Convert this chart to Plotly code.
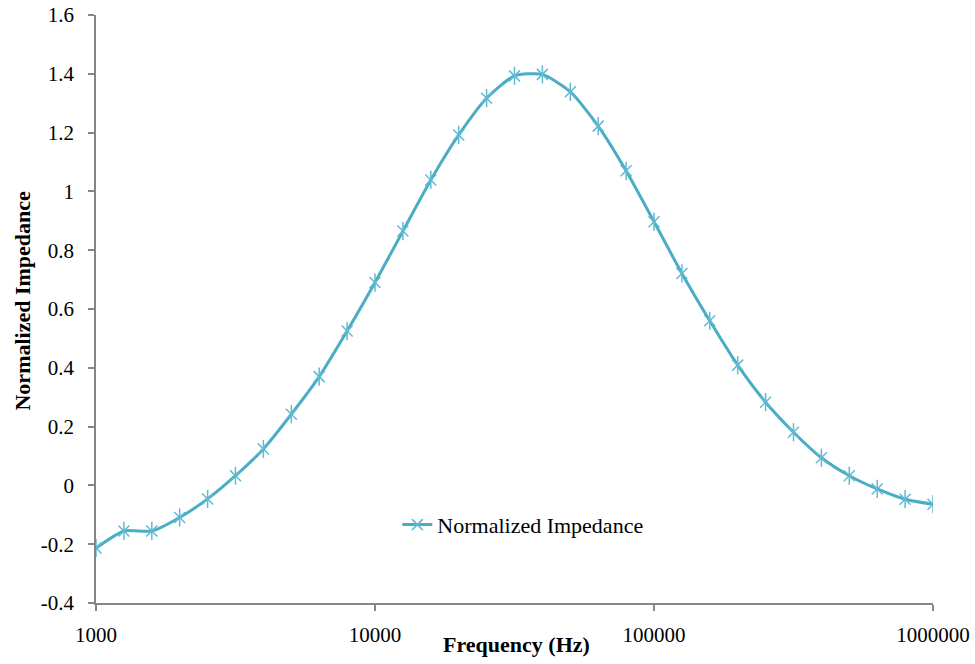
import plotly.graph_objects as go

freq = [1000, 1259, 1585, 1995, 2512, 3162, 3981, 5012, 6310, 7943,
        10000, 12589, 15849, 19953, 25119, 31623, 39811, 50119, 63096, 79433,
        100000, 125893, 158489, 199526, 251189, 316228, 398107, 501187, 630957, 794328,
        1000000]
impedance = [-0.213, -0.155, -0.155, -0.109, -0.046, 0.033, 0.124, 0.242, 0.37, 0.525,
             0.69, 0.865, 1.039, 1.192, 1.317, 1.393, 1.398, 1.339, 1.222, 1.07,
             0.897, 0.721, 0.56, 0.409, 0.283, 0.181, 0.094, 0.033, -0.012, -0.047,
             -0.064]
x_ticks = [1000, 10000, 100000, 1000000]
x_tick_text = ["1000", "10000", "100000", "1000000"]
y_ticks = [-0.4, -0.2, 0, 0.2, 0.4, 0.6, 0.8, 1, 1.2, 1.4, 1.6]
y_tick_text = ["-0.4", "-0.2", "0", "0.2", "0.4", "0.6", "0.8", "1", "1.2", "1.4", "1.6"]
x_title = "Frequency (Hz)"
y_title = "Normalized Impedance"

color = "#4BACC6"
marker_color = "#5FBAD2"
font = "Liberation Serif, Times New Roman, DejaVu Serif, serif"

fig = go.Figure()
fig.add_trace(go.Scatter(
    x=freq, y=impedance, mode="lines+markers", name="Normalized Impedance",
    line=dict(color=color, width=3, shape="spline", smoothing=0.6),
    marker=dict(symbol="x-thin-open", size=11, color=marker_color,
                line=dict(color=marker_color, width=1.5)),
))
fig.add_trace(go.Scatter(
    x=freq, y=impedance, mode="markers", showlegend=False, hoverinfo="skip",
    marker=dict(symbol="line-ns-open", size=13, color=marker_color,
                line=dict(color=marker_color, width=1.5)),
))

axis_common = dict(
    showgrid=False, zeroline=False, automargin=False,
    showline=True, linecolor="#868686", linewidth=1.5,
    ticks="outside", ticklen=6, tickcolor="#868686", tickwidth=1.5,
    tickfont=dict(family=font, size=21, color="black"),
)

fig.update_layout(
    width=975, height=664,
    margin=dict(l=96, r=42, t=15, b=61),
    paper_bgcolor="white", plot_bgcolor="white",
    font=dict(family=font, size=21, color="black"),
    showlegend=True,
    legend=dict(x=0.36, y=0.133, xanchor="left", yanchor="middle",
                bgcolor="rgba(0,0,0,0)", font=dict(family=font, size=22, color="black")),
    xaxis=dict(
        type="log", range=[3, 6],
        tickvals=x_ticks, ticktext=x_tick_text,
        ticklabelstandoff=6,
        **axis_common,
    ),
    yaxis=dict(
        range=[-0.4, 1.6],
        tickvals=y_ticks, ticktext=y_tick_text,
        ticklabelstandoff=10,
        **axis_common,
    ),
    annotations=[
        dict(text="<b>" + x_title + "</b>", xref="paper", yref="paper",
             x=0.502, y=-0.0714, xanchor="center", yanchor="middle", showarrow=False,
             font=dict(family=font, size=22, color="black")),
        dict(text="<b>" + y_title + "</b>", xref="paper", yref="paper",
             x=-0.088, y=0.515, xanchor="center", yanchor="middle", showarrow=False,
             textangle=-90, font=dict(family=font, size=22, color="black")),
    ],
)

fig.write_html("out.html")
